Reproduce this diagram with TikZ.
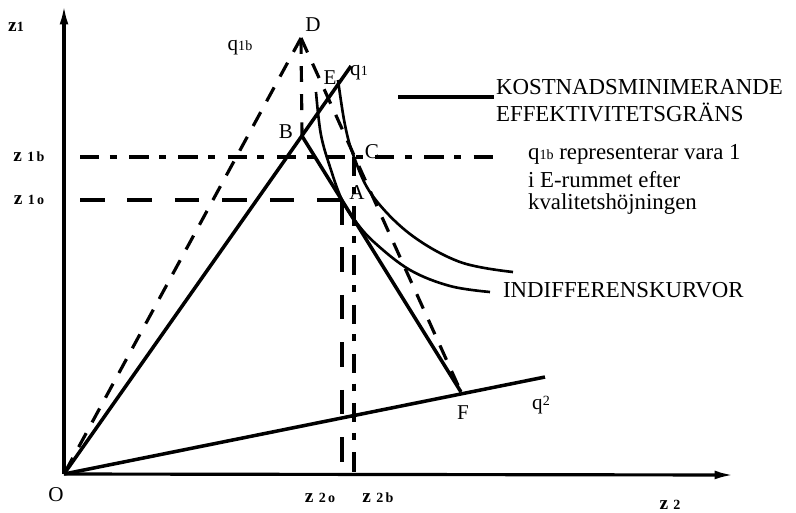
\documentclass[tikz,border=0pt]{standalone}
\usepackage{fontspec}
\setmainfont{Liberation Serif}
\usetikzlibrary{arrows.meta}

\newcommand{\idx}[1]{{\fontsize{8}{8}\selectfont #1}}

\begin{document}
\begin{tikzpicture}[
    x=0.02cm, y=-0.02cm,
    every node/.style={font=\fontsize{12}{14}\selectfont, inner sep=1pt},
    axis/.style={line width=1.8pt, -{Latex[length=11pt,width=5pt]}},
    solidline/.style={line width=2pt},
    curve/.style={line width=1.5pt},
    dashline/.style={line width=1.8pt, dash pattern=on 9pt off 7pt},
    longdash/.style={line width=1.8pt, dash pattern=on 14pt off 13pt},
    dashdot/.style={line width=1.8pt, dash pattern=on 11pt off 6pt on 4pt off 7pt},
    axlabel/.style={font=\fontsize{11}{11}\selectfont\bfseries},
    legend/.style={font=\fontsize{13}{15}\selectfont, anchor=west}
]
\useasboundingbox (0,0) rectangle (796,512);

% points
\coordinate (O) at (64,474);
\coordinate (ytop) at (64,5);
\coordinate (xend) at (734,475);
\coordinate (D) at (301,38);
\coordinate (B) at (302,136);
\coordinate (F) at (461,392);
\coordinate (q1end) at (351,66);
\coordinate (q2end) at (545,377);
\coordinate (C) at (354,157);
\coordinate (A) at (342,200);
\coordinate (z1bstart) at (80,157);
\coordinate (z1bend) at (500,157);
\coordinate (z1ostart) at (80,200);

% axes
\draw[axis] (O) -- (ytop);
\draw[axis] (O) -- (xend);

% q1, q2 and the frontiers
\draw[solidline] (O) -- (q1end);
\draw[solidline] (O) -- (q2end);
\draw[solidline] (B) -- (F);
\draw[dashline] (D) -- (O);
\draw[dashline] (D) -- (F);
\draw[dashline] (D) -- (B);

% guide lines
\draw[dashdot] (z1bstart) -- (z1bend);
\draw[longdash] (z1ostart) -- (A);
\draw[dashdot] (C) -- (C |- O);
\draw[longdash] (A) -- (A |- O);

% indifference curves
\draw[curve] plot[smooth, tension=0.6] coordinates
    {(338,80) (345,125) (354,157) (372,195) (410,234) (460,262) (513,272)};
\draw[curve] plot[smooth, tension=0.6] coordinates
    {(316,92) (321,135) (331,170) (342,200) (356,222) (375,243) (410,270) (450,286) (490,292)};

% axis labels
\node[axlabel] (lz1) at (16,27) {z\idx{1}};
\node[axlabel] (lz1b) at (29,157) {z\;\idx{1\,b}};
\node[axlabel] (lz1o) at (29,200) {z\;\idx{1\,o}};
\node[axlabel] (lz2o) at (320,498) {z\;\idx{2\,o}};
\node[axlabel] (lz2b) at (378,498) {z\;\idx{2\,b}};
\node[axlabel] (lz2) at (670,505) {z\;\idx{2}};

% point labels
\node (lO) at (56,495) {O};
\node (lD) at (313,25) {D};
\node (lE) at (330,78) {E};
\node (lB) at (286,132) {B};
\node (lC) at (372,152) {C};
\node (lA) at (357,193) {A};
\node (lF) at (463,413) {F};
\node (lq1b) at (240,48) {q\idx{1b}};
\node (lq1) at (359,73) {q\idx{1}};
\node (lq2) at (541,405) {q\raisebox{2pt}{\idx{2}}};

% legend
\node[legend] (kost) at (494,87) {KOSTNADSMINIMERANDE};
\node[legend] (effekt) at (494,112) {EFFEKTIVITETSGRÄNS};
\coordinate (kostline) at (398,97);
\draw[solidline] (kostline) -- (kostline -| kost.west);

\node[legend] (rep1) at (526,154) {q\idx{1b} representerar vara 1};
\node[legend] (rep2) at (526,180) {i E-rummet efter};
\node[legend] (rep3) at (526,204) {kvalitetshöjningen};

\node[legend] (indiff) at (501,290) {INDIFFERENSKURVOR};

\end{tikzpicture}
\end{document}
